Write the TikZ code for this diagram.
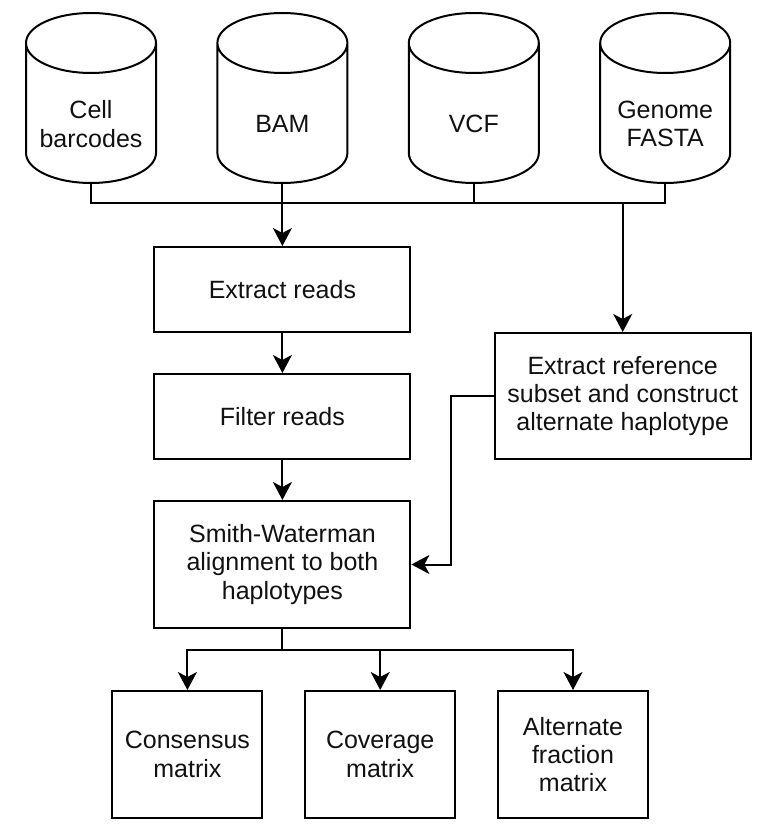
\documentclass[tikz,border=0pt]{standalone}
\usepackage{fontspec}
\setmainfont{Liberation Sans}
\usetikzlibrary{arrows.meta,positioning}
\definecolor{inkclr}{RGB}{0,0,0}
\definecolor{txtclr}{RGB}{17,17,17}
\newcommand{\flowsz}{\fontsize{12.5pt}{14.2pt}\selectfont}
\tikzset{
  %% data store (cylinder drawn afterwards)
  db/.style={rectangle,minimum width=65pt,minimum height=85pt,
    outer sep=0pt,inner sep=0pt},
  dbtxt/.style={font=\flowsz,align=center,text=txtclr,yshift=-13pt},
  dbline/.style={draw=inkclr,line width=1pt},
  %% processing step
  proc/.style={rectangle,draw=inkclr,line width=1pt,
    minimum width=128pt,minimum height=42.5pt,
    font=\flowsz,align=center,text=txtclr,inner sep=2pt},
  %% output matrix
  outbox/.style={proc,minimum width=75pt,minimum height=63.5pt},
  %% connectors
  line/.style={draw=inkclr,line width=1pt},
  arr/.style={line,-{Stealth[length=9pt,width=9.5pt,inset=2.5pt]}},
}

\begin{document}
\begin{tikzpicture}[node distance=20pt and 30.7pt]

  \useasboundingbox (0,0) rectangle (384.5pt,-414.5pt);

  %% Inputs (left to right)
  \node[db,label={[dbtxt]center:Cell\\barcodes}] (cells) at (45.5pt,-49pt) {};
  \node[db,right=of cells,label={[dbtxt]center:BAM}]           (bam)   {};
  \node[db,right=of bam,label={[dbtxt]center:VCF}]             (vcf)   {};
  \node[db,right=of vcf,label={[dbtxt]center:Genome\\FASTA}]   (fasta) {};

  \foreach \c in {cells,bam,vcf,fasta}
    \draw[dbline] ([yshift=-15pt]\c.north west) -- ([yshift=15pt]\c.south west)
      arc[start angle=180,end angle=360,x radius=32.5pt,y radius=15pt]
      -- ([yshift=-15pt]\c.north east)
      arc[start angle=0,end angle=360,x radius=32.5pt,y radius=15pt];

  %% Read path
  \node[proc,below=31.5pt of bam]  (reads) {Extract reads};
  \node[proc,below=of reads]       (filt)  {Filter reads};
  \node[proc,below=of filt,minimum height=63.5pt] (sw)
    {Smith-Waterman\\alignment to both\\haplotypes};

  %% Reference path
  \node[proc,below=74.5pt of fasta,xshift=-21.25pt,minimum height=63pt] (ref)
    {Extract reference\\subset and construct\\alternate haplotype};

  %% Outputs
  \node[outbox,below=30.5pt of sw,xshift=-47.5pt] (cons) {Consensus\\matrix};
  \node[outbox,right=20.4pt of cons]              (cov)  {Coverage\\matrix};
  \node[outbox,right=20.4pt of cov]               (alt)  {Alternate\\fraction\\matrix};

  %% Input bus
  \coordinate[below=10pt of bam.south] (bus);
  \draw[line] (cells.south) -- (cells.south |- bus) -- (fasta.south |- bus)
    -- (fasta.south);
  \draw[line] (vcf.south) -- (vcf.south |- bus);
  \draw[arr]  (bam.south) -- (reads);
  \draw[arr]  (ref.north |- bus) -- (ref);

  %% Steps
  \draw[arr] (reads) -- (filt);
  \draw[arr] (filt) -- (sw);
  \draw[arr] (ref.west) -- ++(-21.5pt,0) |- (sw.east);

  %% Output fan
  \coordinate[below=10.5pt of sw.south] (fan);
  \draw[line] (sw) -- (fan);
  \draw[arr]  (fan) -| (cons);
  \draw[arr]  (fan) -| (cov);
  \draw[arr]  (fan) -| (alt);

\end{tikzpicture}
\end{document}
